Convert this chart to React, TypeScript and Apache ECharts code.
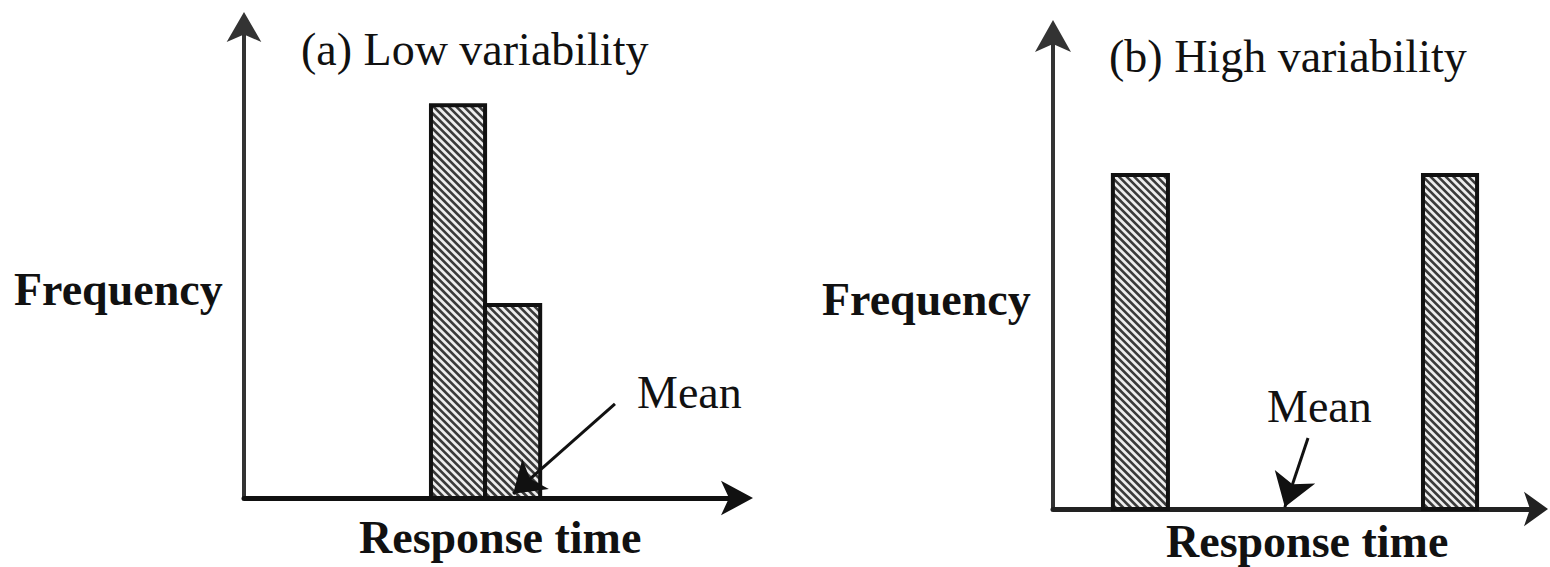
import { useEffect, useRef } from "react";
import * as echarts from "echarts";

// ---- Data (response-time units 0..100, frequency 0..100) ----
// Panel (a): low variability
const lowBinStart = [38.0, 49.0];
const lowBinEnd = [49.0, 60.2];
const lowFreq = [83.4, 41.0];
const lowMeanArrow = [[75.4, 20.0], [54.7, 0.9]];

// Panel (b): high variability
const highBinStart = [12.4, 76.6];
const highBinEnd = [23.8, 87.8];
const highFreq = [70.6, 70.6];
const highMeanArrow = [[52.8, 15.0], [48.0, 0.4]];

// Texts
const panelTitles = ["(a) Low variability", "(b) High variability"];
const yAxisName = "Frequency";
const xAxisName = "Response time";
const meanLabel = "Mean";

const SERIF = '"Liberation Serif", "Times New Roman", Times, serif';

function renderHatchedBar(_params: any, api: any) {
  const x0 = api.value(0);
  const x1 = api.value(1);
  const h = api.value(2);
  const pBL = api.coord([x0, 0]);
  const pTR = api.coord([x1, h]);
  const L = pBL[0];
  const B = pBL[1];
  const R = pTR[0];
  const T = pTR[1];
  const children: any[] = [
    { type: "rect", shape: { x: L, y: T, width: R - L, height: B - T }, style: { fill: "#eeeeee" } },
  ];
  const step = 7.6;
  const cStart = Math.ceil((T - R) / step) * step;
  for (let c = cStart; c < B - L; c += step) {
    const xa = Math.max(L, T - c);
    const xb = Math.min(R, B - c);
    if (xb > xa) {
      children.push({
        type: "line",
        shape: { x1: xa, y1: xa + c, x2: xb, y2: xb + c },
        style: { stroke: "#3a3a3a", lineWidth: 2.6 },
      });
    }
  }
  children.push({
    type: "rect",
    shape: { x: L, y: T, width: R - L, height: B - T },
    style: { fill: "none", stroke: "#111", lineWidth: 4 },
  });
  return { type: "group", children };
}

function text(x: number, y: number, t: string, bold: boolean) {
  return {
    type: "text",
    x,
    y,
    style: {
      text: t,
      fill: "#111",
      fontFamily: SERIF,
      fontSize: 46,
      fontWeight: bold ? "bold" : "normal",
      align: "left",
      verticalAlign: "middle",
      textAlign: "left",
      textVerticalAlign: "middle",
    },
  };
}

export default function App() {
  const ref = useRef<HTMLDivElement>(null);

  useEffect(() => {
    if (!ref.current) return;
    const chart = echarts.init(ref.current, undefined, { renderer: "svg" });

    const axisBase = (size: [number, number], offset: number, color: string, width: number) => ({
      type: "value",
      min: 0,
      max: 100,
      axisLine: {
        show: true,
        onZero: false,
        symbol: ["none", "arrow"],
        symbolSize: size,
        symbolOffset: [0, offset],
        lineStyle: { color, width },
      },
      axisTick: { show: false },
      axisLabel: { show: false },
      splitLine: { show: false },
    });

    const lowData = lowBinStart.map((s, i) => [s, lowBinEnd[i], lowFreq[i]]);
    const highData = highBinStart.map((s, i) => [s, highBinEnd[i], highFreq[i]]);

    const option: any = {
      animation: false,
      backgroundColor: "#fff",
      grid: [
        { left: 244, top: 27, width: 492, height: 471, containLabel: false, outerBoundsMode: "none" },
        { left: 1053, top: 36, width: 483, height: 473, containLabel: false, outerBoundsMode: "none" },
      ],
      xAxis: [
        { ...axisBase([26, 32], 17, "#111", 5), gridIndex: 0 },
        { ...axisBase([26, 24], 12, "#222", 5), gridIndex: 1 },
      ],
      yAxis: [
        { ...axisBase([26, 30], 15, "#333", 4), gridIndex: 0 },
        { ...axisBase([27, 32], 16, "#333", 4), gridIndex: 1 },
      ],
      series: [
        {
          type: "custom",
          xAxisIndex: 0,
          yAxisIndex: 0,
          data: lowData,
          encode: { x: [0, 1], y: 2 },
          renderItem: renderHatchedBar,
          clip: false,
        },
        {
          type: "custom",
          xAxisIndex: 1,
          yAxisIndex: 1,
          data: highData,
          encode: { x: [0, 1], y: 2 },
          renderItem: renderHatchedBar,
          clip: false,
        },
        {
          type: "lines",
          coordinateSystem: "cartesian2d",
          xAxisIndex: 0,
          yAxisIndex: 0,
          symbol: ["none", "arrow"],
          symbolSize: [20, 30],
          lineStyle: { color: "#111", width: 3, opacity: 1, curveness: 0 },
          data: [{ coords: lowMeanArrow }],
          z: 5,
        },
        {
          type: "lines",
          coordinateSystem: "cartesian2d",
          xAxisIndex: 1,
          yAxisIndex: 1,
          symbol: ["none", "arrow"],
          symbolSize: [20, 32],
          lineStyle: { color: "#111", width: 3, opacity: 1, curveness: 0 },
          data: [{ coords: highMeanArrow }],
          z: 5,
        },
      ],
      graphic: [
        text(301, 49.5, panelTitles[0], false),
        text(1109, 56.5, panelTitles[1], false),
        text(14, 289.5, yAxisName, true),
        text(822, 299.5, yAxisName, true),
        text(359, 537.5, xAxisName, true),
        text(1166, 541.5, xAxisName, true),
        text(637, 392.5, meanLabel, false),
        text(1267, 406.5, meanLabel, false),
      ],
    };

    chart.setOption(option);
    return () => chart.dispose();
  }, []);

  return (
    <div
      ref={ref}
      style={{ position: "fixed", left: 0, top: 0, width: 1550, height: 567, background: "#fff" }}
    />
  );
}
